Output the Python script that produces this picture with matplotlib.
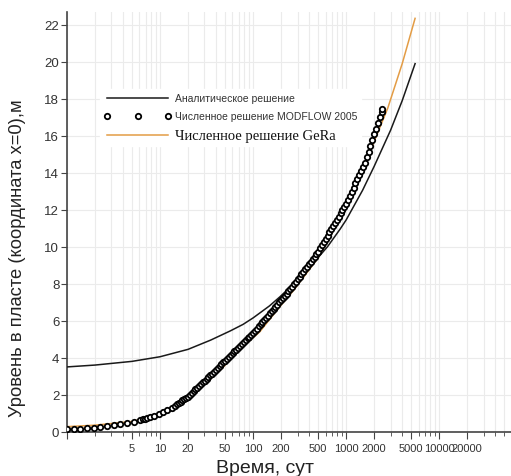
import matplotlib

matplotlib.use("Agg")
import matplotlib.pyplot as plt
from matplotlib.ticker import FixedLocator, NullFormatter
from matplotlib.transforms import ScaledTranslation

# analytic solution
t_analytic = [1, 2, 5, 10, 20, 35, 57, 78, 100, 150, 195, 300, 450, 630, 860,
              1000, 1500, 2000, 3000, 4000, 5500]
h_analytic = [3.5, 3.6, 3.8, 4.05, 4.45, 4.95, 5.45, 5.8, 6.15, 6.8, 7.3, 8.2,
              9.15, 10.0, 10.95, 11.45, 13.05, 14.35, 16.3, 17.9, 19.9]

# GeRa numerical solution
t_gera = [1, 2, 5, 10, 15, 20, 30, 47, 70, 118, 200, 268, 500, 1000, 1500,
          2000, 2800, 4000, 5500]
h_gera = [0.27, 0.35, 0.55, 0.9, 1.3, 1.7, 2.55, 3.45, 4.4, 5.4, 6.85, 7.6,
          9.4, 12.1, 14.0, 15.7, 17.5, 19.9, 22.35]

# MODFLOW 2005 numerical solution (points)
t_modflow = [
    1.0, 1.18, 1.39, 1.64, 1.94, 2.29, 2.7, 3.19, 3.76, 4.44, 5.2, 6.1, 6.5,
    6.9, 7.3, 7.8, 8.7, 9.7, 10.8, 12.0, 13.4, 14.5,
    15.14, 15.85, 16.60, 17.38, 18.20, 19.05, 19.95, 20.89, 21.88, 22.91,
    23.99, 25.12, 26.30, 27.54, 28.84, 30.20, 31.62, 33.11, 34.67, 36.31,
    38.02, 39.81, 41.69, 43.65, 45.71, 47.86, 50.12, 52.48, 54.95, 57.54,
    60.26, 63.10, 66.07, 69.18, 72.44, 75.86, 79.43, 83.18, 87.10, 91.20,
    95.50, 100.0, 104.7, 109.6, 114.8, 120.2, 125.9, 131.8, 138.0, 144.5,
    151.4, 158.5, 166.0, 173.8, 182.0, 190.5, 199.5, 208.9, 218.8, 229.1,
    239.9, 251.2, 263.0, 275.4, 288.4, 302.0, 316.2, 331.1, 346.7, 363.1,
    380.2, 398.1, 416.9, 436.5, 457.1, 478.6, 501.2, 524.8, 549.5, 575.4,
    602.6, 631.0, 660.7, 691.8, 724.4, 758.6, 794.3, 831.8, 871.0, 912.0,
    955.0, 1000, 1047, 1096, 1148, 1202, 1259, 1318, 1380, 1445, 1514, 1585,
    1660, 1738, 1820, 1905, 1995, 2089, 2188, 2291, 2399, 2455,
]
h_modflow = [
    0.12, 0.14, 0.16, 0.19, 0.21, 0.23, 0.28, 0.34, 0.40, 0.46, 0.52, 0.63,
    0.67, 0.71, 0.74, 0.79, 0.86, 0.93, 1.04, 1.17, 1.30, 1.40,
    1.48, 1.55, 1.62, 1.69, 1.76, 1.83, 1.90, 1.99, 2.09, 2.18,
    2.28, 2.38, 2.47, 2.57, 2.66, 2.76, 2.86, 2.95, 3.05, 3.14,
    3.24, 3.34, 3.44, 3.54, 3.64, 3.74, 3.84, 3.94, 4.04, 4.14,
    4.24, 4.34, 4.44, 4.54, 4.64, 4.74, 4.84, 4.94, 5.04, 5.14,
    5.24, 5.34, 5.45, 5.57, 5.69, 5.81, 5.93, 6.04, 6.16, 6.28,
    6.40, 6.52, 6.63, 6.75, 6.87, 6.99, 7.11, 7.22, 7.34, 7.46,
    7.58, 7.70, 7.83, 7.97, 8.10, 8.24, 8.38, 8.51, 8.65, 8.78,
    8.92, 9.06, 9.19, 9.33, 9.46, 9.60, 9.74, 9.91, 10.08, 10.25,
    10.42, 10.60, 10.77, 10.94, 11.11, 11.28, 11.46, 11.63, 11.80, 11.97,
    12.14, 12.32, 12.54, 12.76, 12.98, 13.20, 13.42, 13.64, 13.86, 14.08,
    14.30, 14.52, 14.83, 15.14, 15.45, 15.76, 16.07, 16.38, 16.69, 17.00,
    17.31, 17.46,
]

x_major = [1, 5, 10, 20, 50, 100, 200, 500, 1000, 2000, 5000, 10000, 20000]
x_labels = ["", "5", "10", "20", "50", "100", "200", "500", "1000", "2000",
            "5000", "10000", "20000"]
y_ticks = list(range(0, 23, 2))

plt.rcParams["font.family"] = ["Liberation Sans", "DejaVu Sans"]

fig = plt.figure(figsize=(5.11, 4.77), dpi=100)
ax = fig.add_axes([0.131, 0.093, 0.869, 0.88])

ax.plot(t_analytic, h_analytic, color="#1a1a1a", lw=1.1,
        label="Аналитическое решение", zorder=3)
ax.plot(t_gera, h_gera, color="#e39c45", lw=1.1,
        label="Численное решение GeRa", zorder=2)
ax.plot(t_modflow, h_modflow, ls="none", marker="o", ms=3.9, mfc="white",
        mec="black", mew=1.3, label="Численное решение MODFLOW 2005",
        zorder=4)

ax.set_xscale("log")
ax.set_xlim(1, 59000)
ax.set_ylim(0, 22.7)

minor = [m * 10 ** e for e in range(0, 5) for m in range(2, 10)
         if m * 10 ** e not in x_major and m * 10 ** e < 59000]
ax.xaxis.set_major_locator(FixedLocator(x_major))
ax.set_xticklabels(x_labels, fontsize=8)
ax.xaxis.set_minor_locator(FixedLocator(minor))
ax.xaxis.set_minor_formatter(NullFormatter())
ax.set_yticks(y_ticks)

# crowded labels at the right end sit a little apart, as in the source figure
shifts = {"10000": 1.5, "20000": 5}
for lab in ax.get_xticklabels():
    dx = shifts.get(lab.get_text(), 0)
    if dx:
        lab.set_transform(lab.get_transform()
                          + ScaledTranslation(dx / 100, 0, fig.dpi_scale_trans))

ax.grid(True, which="both", axis="x", color="#ebebeb", lw=0.8)
ax.grid(True, which="major", axis="y", color="#ebebeb", lw=0.8)
ax.set_axisbelow(True)

for side in ("top", "right"):
    ax.spines[side].set_visible(False)
for side in ("left", "bottom"):
    ax.spines[side].set_color("#444444")
    ax.spines[side].set_linewidth(1.2)

ax.tick_params(axis="y", which="major", length=4, pad=1.5, color="#444444",
               labelsize=9.5, labelcolor="#333333")
ax.tick_params(axis="x", which="major", length=5, color="#444444",
               labelcolor="#333333")
ax.tick_params(axis="x", which="minor", length=3, color="#444444")

ax.set_xlabel("Время, сут", fontsize=14, color="#222222")
ax.xaxis.set_label_coords(0.446, -0.066)
ax.set_ylabel("Уровень в пласте (координата x=0),м", fontsize=13.2,
              color="#222222")
ax.yaxis.set_label_coords(-0.092, 0.416)

handles, labels = ax.get_legend_handles_labels()
order = [0, 2, 1]
leg = ax.legend([handles[i] for i in order], [labels[i] for i in order],
                loc="upper left", bbox_to_anchor=(0.062, 0.828),
                frameon=True, facecolor="white", edgecolor="white",
                framealpha=1, numpoints=3, handlelength=6.5,
                handletextpad=0.3, labelspacing=0.75, fontsize=7.5)
for txt in leg.get_texts():
    txt.set_color("#333333")
leg.get_texts()[2].set_family("Liberation Serif")
leg.get_texts()[2].set_fontsize(10.5)
leg.get_texts()[2].set_color("#111111")

fig.savefig("out.png", dpi=100)
